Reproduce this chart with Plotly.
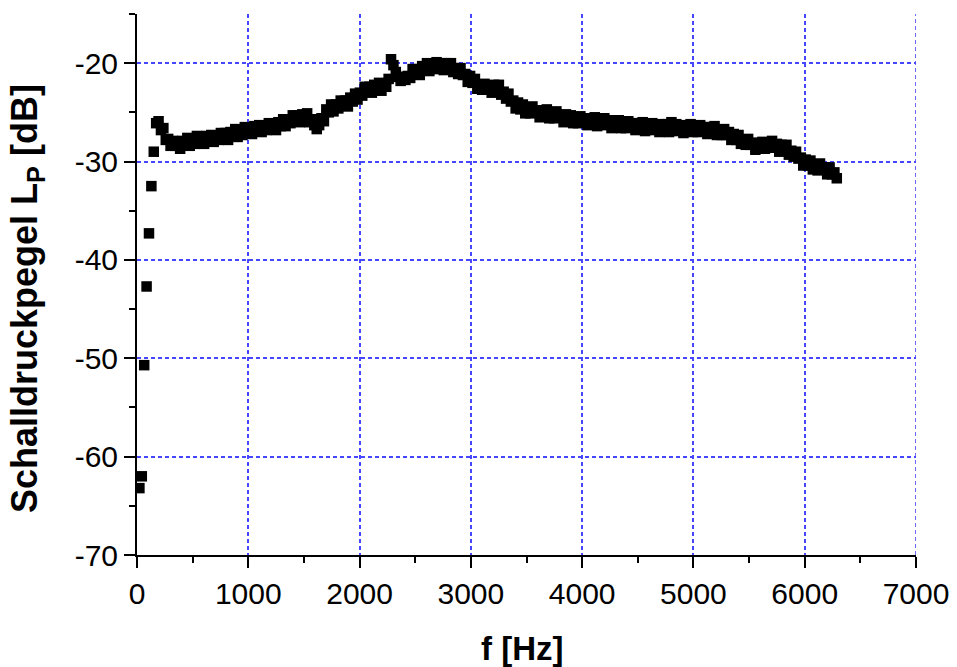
import numpy as np
import plotly.graph_objects as go

# Low-frequency rise (Hz, dB)
low_freq_hz = [21.5, 43.1, 64.6, 86.1, 107.7, 129.2, 150.7, 172.3]
low_level_db = [-63.2, -62.0, -50.7, -42.7, -37.3, -32.5, -29.0, -26.1]

# Main band: samples every 21.53 Hz starting at 193.8 Hz
band_start_hz = 193.8
band_step_hz = 21.535
band_level_db = [
    -25.9, -26.8, -26.6, -27.8, -27.7, -28.4, -27.9, -28.4, -28.0, -28.7,   # 194-388
    -27.9, -28.3, -27.6, -28.4, -27.9, -28.2, -27.4, -27.9, -27.6, -28.2,   # 409-603
    -27.4, -27.9, -27.3, -28.0, -27.4, -27.8, -27.1, -27.5, -27.1, -27.8,   # 625-818
    -27.0, -27.4, -26.7, -27.5, -27.0, -27.3, -26.5, -27.0, -26.6, -27.2,   # 840-1033
    -26.4, -26.9, -26.3, -27.0, -26.4, -26.8, -26.1, -26.6, -26.2, -26.8,   # 1055-1249
    -26.0, -26.4, -25.7, -26.4, -25.8, -26.1, -25.3, -25.7, -25.3, -26.0,   # 1271-1464
    -25.2, -25.7, -25.1, -26.0, -25.7, -26.3, -26.7, -26.3, -25.6, -25.9,   # 1486-1680
    -24.7, -25.0, -24.2, -24.9, -24.2, -24.6, -23.8, -24.2, -23.8, -24.4,   # 1701-1895
    -23.5, -23.9, -23.1, -23.7, -23.0, -23.3, -22.4, -22.8, -22.4, -23.0,   # 1917-2111
    -22.2, -22.7, -22.0, -22.8, -22.2, -22.4, -21.6, -19.6, -20.2, -20.9,   # 2132-2326
    -21.4, -21.8, -21.4, -21.7, -21.3, -21.5, -20.6, -21.0, -20.6, -21.2,   # 2347-2541
    -20.3, -20.7, -20.0, -20.8, -20.2, -20.6, -19.9, -20.4, -20.0, -20.7,   # 2563-2757
    -20.0, -20.6, -20.0, -20.9, -20.5, -21.1, -20.5, -21.2, -21.1, -21.9,   # 2778-2972
    -21.3, -22.0, -21.6, -22.6, -22.2, -22.7, -22.1, -22.6, -22.3, -23.0,   # 2993-3187
    -22.2, -22.7, -22.2, -23.2, -22.9, -23.6, -23.1, -23.9, -23.8, -24.6,   # 3209-3403
    -24.0, -24.7, -24.2, -25.1, -24.6, -25.1, -24.4, -25.0, -24.8, -25.5,   # 3424-3618
    -24.8, -25.3, -24.7, -25.6, -25.2, -25.6, -24.9, -25.5, -25.3, -26.0,   # 3640-3833
    -25.2, -25.8, -25.3, -26.1, -25.6, -26.1, -25.4, -25.9, -25.6, -26.3,   # 3855-4049
    -25.6, -26.1, -25.5, -26.4, -25.9, -26.3, -25.6, -26.2, -25.9, -26.6,   # 4070-4264
    -25.8, -26.4, -25.8, -26.6, -26.1, -26.6, -25.9, -26.4, -26.1, -26.8,   # 4286-4479
    -26.1, -26.6, -26.0, -26.9, -26.4, -26.8, -26.1, -26.7, -26.4, -27.0,   # 4501-4695
    -26.2, -26.8, -26.2, -27.0, -26.0, -26.9, -26.2, -26.8, -26.5, -27.1,   # 4716-4910
    -26.3, -26.8, -26.2, -27.0, -26.5, -27.0, -26.3, -26.8, -26.5, -27.2,   # 4932-5126
    -26.5, -27.0, -26.4, -27.3, -26.8, -27.3, -26.7, -27.3, -27.0, -27.8,   # 5147-5341
    -27.2, -27.8, -27.3, -28.2, -27.8, -28.3, -27.7, -28.3, -28.1, -28.8,   # 5362-5556
    -28.1, -28.6, -28.0, -28.7, -28.1, -28.6, -27.9, -28.5, -28.2, -29.0,   # 5578-5772
    -28.3, -28.9, -28.3, -29.3, -28.9, -29.5, -29.0, -29.7, -29.6, -30.4,   # 5793-5987
    -29.8, -30.4, -29.9, -30.8, -30.4, -30.9, -30.2, -30.8, -30.6, -31.3,   # 6008-6203
    -30.6, -31.3, -31.1, -31.7,                                             # 6224-6289
]
band_freq_hz = band_start_hz + band_step_hz * np.arange(len(band_level_db))

freq_hz = list(low_freq_hz) + list(band_freq_hz)
level_db = list(low_level_db) + list(band_level_db)

x_ticks = [0, 1000, 2000, 3000, 4000, 5000, 6000, 7000]
y_ticks = [-70, -60, -50, -40, -30, -20]

FONT = "Arial, Liberation Sans, sans-serif"
GRID = "rgb(70,70,255)"
GRID_DASH = "4px,3px"

# the page body has an 8 px margin: compensate so the plot lands where the reference has it
OFF = 8
W, H = 957 - OFF, 667 - OFF
L, R, T, B = 137 - OFF, 41, 14 - OFF, 112
PW, PH = W - L - R, H - T - B
PLOT_BOTTOM = 555  # screen px of the x axis


def px_to_paper_x(px):
    return (px - 137) / PW


def px_to_paper_y(py):
    return (PLOT_BOTTOM - py) / PH


fig = go.Figure(
    go.Scatter(
        x=freq_hz, y=level_db, mode="markers",
        marker=dict(symbol="square", size=10.5, color="black", line=dict(width=0)),
        cliponaxis=True,
    )
)

fig.update_layout(
    width=W, height=H,
    margin=dict(l=L, r=R, t=T, b=B, autoexpand=False),
    paper_bgcolor="white", plot_bgcolor="white",
    showlegend=False,
    font=dict(family=FONT, color="black", size=30),
)

common = dict(
    tickmode="array", ticks="outside", ticklen=11, tickwidth=2, tickcolor="black",
    showline=True, linecolor="black", linewidth=2,
    showgrid=True, gridcolor=GRID, gridwidth=1.6, griddash=GRID_DASH,
    zeroline=False, automargin=False,
    tickfont=dict(size=30, family=FONT, color="black"),
)

fig.update_xaxes(
    range=[0, 7000], tickvals=x_ticks, ticktext=[str(v) for v in x_ticks],
    minor=dict(dtick=500, tick0=0, ticks="outside", ticklen=6, tickwidth=2,
               tickcolor="black", showgrid=False),
    **common,
)
fig.update_yaxes(
    range=[-70, -15], tickvals=y_ticks, ticktext=[str(v) for v in y_ticks],
    minor=dict(dtick=5, tick0=-70, ticks="outside", ticklen=6, tickwidth=2,
               tickcolor="black", showgrid=False),
    **common,
)

# grid line at the right edge (x = 7000) that the reference shows
fig.add_shape(type="line", xref="x", yref="paper", x0=x_ticks[-1], x1=x_ticks[-1],
              y0=0, y1=1, line=dict(color=GRID, width=1.6, dash=GRID_DASH), layer="below")

# axis titles
fig.add_annotation(text="<b>f [Hz]</b>", xref="paper", yref="paper",
                   x=px_to_paper_x(522), y=px_to_paper_y(648),
                   xanchor="center", yanchor="middle", showarrow=False,
                   font=dict(size=33, family=FONT, color="black"))
fig.add_annotation(text="<b>Schalldruckpegel L<sub>P</sub> [dB]</b>", xref="paper", yref="paper",
                   x=px_to_paper_x(27), y=px_to_paper_y(299), textangle=-90,
                   xanchor="center", yanchor="middle", showarrow=False,
                   font=dict(size=36, family=FONT, color="black"))

fig.write_html("out.html")
